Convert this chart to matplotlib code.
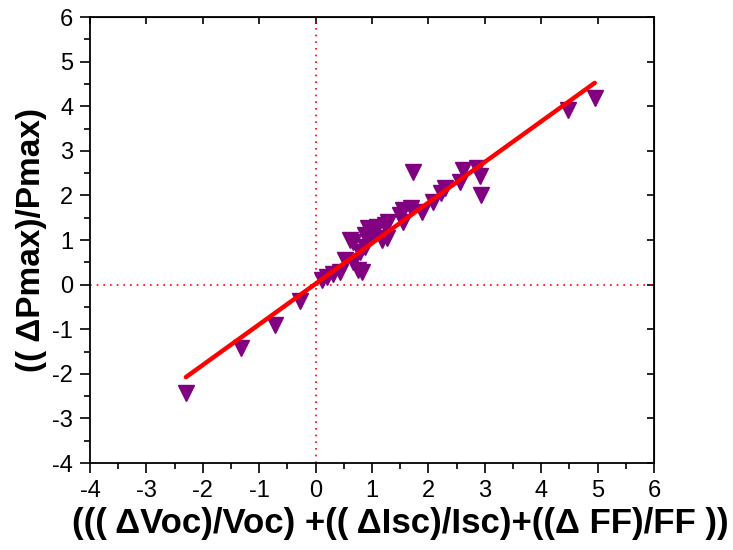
import matplotlib
matplotlib.use("Agg")
import matplotlib.pyplot as plt
import numpy as np
from matplotlib.ticker import MultipleLocator

plt.rcParams["font.family"] = ["Liberation Sans", "DejaVu Sans"]
plt.rcParams["axes.unicode_minus"] = False

# relative changes
x_rel = [-2.30, -1.32, -0.72, -0.28, 0.11, 0.20, 0.31, 0.43, 0.52, 0.61,
         0.67, 0.67, 0.76, 0.79, 0.82, 0.88, 0.88, 0.93, 0.99, 1.08,
         1.17, 1.23, 1.26, 1.29, 1.50, 1.55, 1.55, 1.70, 1.73, 1.88,
         2.08, 2.23, 2.29, 2.56, 2.62, 2.86, 2.91, 2.94, 4.48, 4.95]
y_rel = [-2.43, -1.42, -0.91, -0.37, 0.10, 0.18, 0.25, 0.29, 0.55, 1.00,
         0.96, 0.51, 0.33, 0.74, 0.29, 1.11, 0.85, 1.26, 1.07, 1.30,
         1.00, 1.34, 1.04, 1.41, 1.56, 1.67, 1.41, 1.71, 2.53, 1.63,
         1.86, 2.05, 2.17, 2.31, 2.57, 2.61, 2.43, 2.01, 3.91, 4.18]

# linear fit shown as the red line
fit_slope = 0.91
fit_intercept = 0.02

fig = plt.figure(figsize=(7.33, 5.5), dpi=100)
ax = fig.add_axes([0.1228, 0.158, 0.7694, 0.811])

ax.axhline(0, color="red", ls=(0, (1, 3)), lw=1.2, zorder=1)
ax.axvline(0, color="red", ls=(0, (1, 3)), lw=1.2, zorder=1)

ax.plot(x_rel, y_rel, ls="", marker="v", ms=11.5, color="#800080",
        markeredgecolor="#800080", zorder=2)

xf = np.array([min(x_rel), max(x_rel)])
ax.plot(xf, fit_slope * xf + fit_intercept, color="red", lw=3.2,
        solid_capstyle="round", zorder=3)

ax.set_xlim(-4, 6)
ax.set_ylim(-4, 6)
ax.xaxis.set_major_locator(MultipleLocator(1))
ax.yaxis.set_major_locator(MultipleLocator(1))
ax.xaxis.set_minor_locator(MultipleLocator(0.5))
ax.yaxis.set_minor_locator(MultipleLocator(0.5))
ax.tick_params(which="major", direction="out", length=7, width=1.2,
               labelsize=17, pad=5)
ax.tick_params(which="minor", direction="out", length=4, width=1.2)
for sp in ax.spines.values():
    sp.set_linewidth(1.3)

# mirrored inward ticks on top / right
top = ax.secondary_xaxis("top")
top.xaxis.set_major_locator(MultipleLocator(1))
top.tick_params(direction="in", length=5, width=1.2, labeltop=False)
right = ax.secondary_yaxis("right")
right.yaxis.set_major_locator(MultipleLocator(1))
right.tick_params(direction="in", length=5, width=1.2, labelright=False)

ax.set_xlabel("((( \u0394Voc)/Voc) +(( \u0394Isc)/Isc)+((\u0394 FF)/FF ))",
              fontsize=25, fontweight="bold", labelpad=4, x=0.55)
ax.set_ylabel("(( \u0394Pmax)/Pmax)", fontsize=24, fontweight="bold",
              labelpad=4)

fig.savefig("out.png", dpi=100)
